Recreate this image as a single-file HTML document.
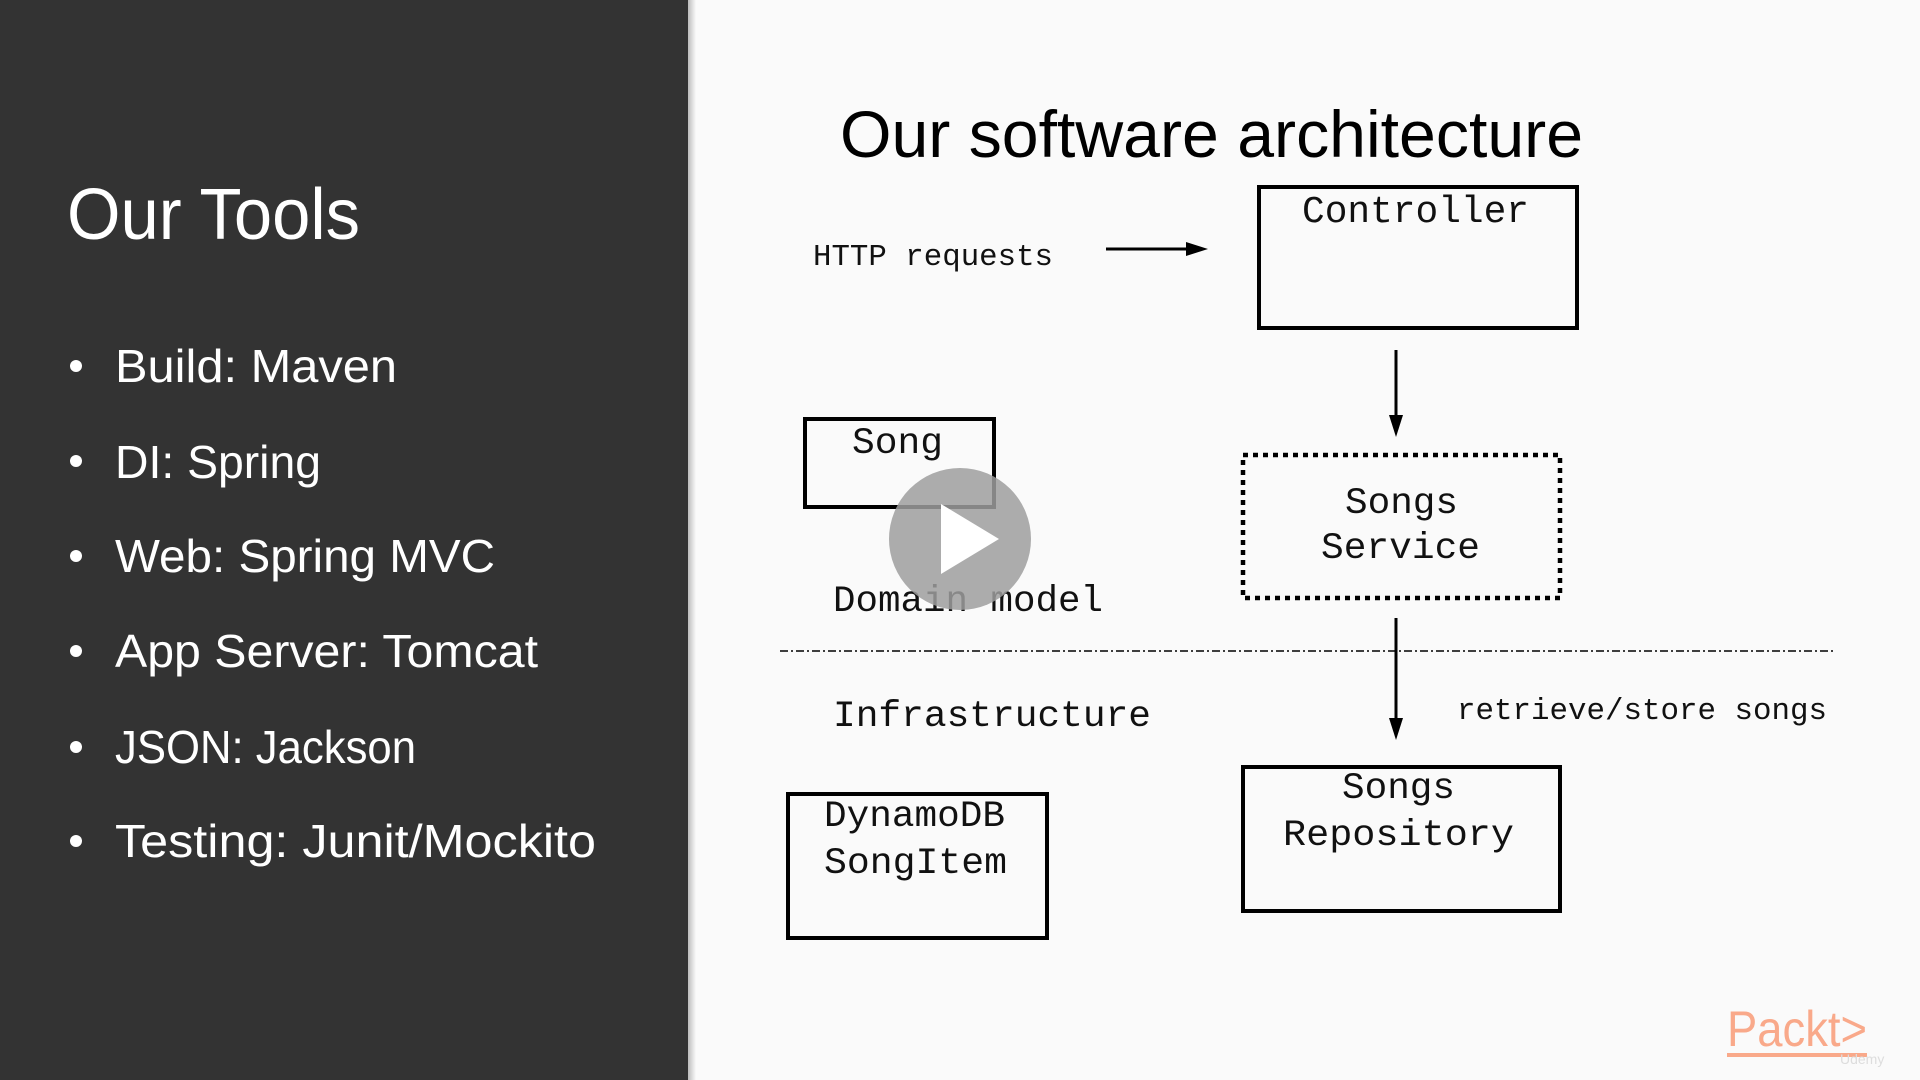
<!DOCTYPE html>
<html><head><meta charset="utf-8"><style>
html,body{margin:0;padding:0;width:1920px;height:1080px;overflow:hidden;background:#fafafa}
svg{display:block}
</style></head><body>
<svg width="1920" height="1080" viewBox="0 0 1920 1080" xmlns="http://www.w3.org/2000/svg">
<defs>
<linearGradient id="sh" x1="0" x2="1"><stop offset="0" stop-color="#000" stop-opacity="0.25"/><stop offset="1" stop-color="#000" stop-opacity="0"/></linearGradient>
</defs>
<rect width="1920" height="1080" fill="#fafafa"/>
<rect width="688" height="1080" fill="#333333"/>
<rect x="688" width="8" height="1080" fill="url(#sh)"/>
<g font-family="Liberation Sans, sans-serif" fill="#ffffff">
<text x="67" y="239" font-size="72" textLength="293" lengthAdjust="spacingAndGlyphs">Our Tools</text>
<g font-size="46">
<circle cx="76" cy="366" r="6"/><text x="115" y="382" textLength="282" lengthAdjust="spacingAndGlyphs">Build: Maven</text>
<circle cx="76" cy="461" r="6"/><text x="115" y="478" textLength="206" lengthAdjust="spacingAndGlyphs">DI: Spring</text>
<circle cx="76" cy="556" r="6"/><text x="115" y="572" textLength="380" lengthAdjust="spacingAndGlyphs">Web: Spring MVC</text>
<circle cx="76" cy="651" r="6"/><text x="115" y="667" textLength="423" lengthAdjust="spacingAndGlyphs">App Server: Tomcat</text>
<circle cx="76" cy="747" r="6"/><text x="115" y="763" textLength="301" lengthAdjust="spacingAndGlyphs">JSON: Jackson</text>
<circle cx="76" cy="841" r="6"/><text x="115" y="857" textLength="481" lengthAdjust="spacingAndGlyphs">Testing: Junit/Mockito</text>
</g></g>
<text x="840" y="157" font-family="Liberation Sans, sans-serif" font-size="66" fill="#000" textLength="743" lengthAdjust="spacingAndGlyphs">Our software architecture</text>
<g fill="none" stroke="#000" stroke-width="4">
<rect x="1259" y="187" width="318" height="141"/>
<rect x="805" y="419" width="189" height="88"/>
<rect x="1243" y="767" width="317" height="144"/>
<rect x="788" y="794" width="259" height="144"/>
<rect x="1243" y="455" width="317" height="143" stroke-dasharray="5 5" stroke-width="4.5"/>
<line x1="1106" y1="249" x2="1190" y2="249" stroke-width="3"/>
<line x1="1396" y1="350" x2="1396" y2="422" stroke-width="3"/>
<line x1="1396" y1="618" x2="1396" y2="722" stroke-width="3"/>
</g>
<line x1="780" y1="651" x2="1834" y2="651" stroke="#000" stroke-width="1.5" stroke-dasharray="8 3 2 3"/>
<g fill="#000">
<polygon points="1208,249 1186,242 1186,256"/>
<polygon points="1396,437 1389,415 1403,415"/>
<polygon points="1396,740 1389,718 1403,718"/>
</g>
<g font-family="Liberation Mono, monospace" fill="#111" lengthAdjust="spacingAndGlyphs">
<text x="1302" y="222" font-size="38" textLength="227" lengthAdjust="spacingAndGlyphs">Controller</text>
<text x="813" y="265" font-size="31" textLength="240" lengthAdjust="spacingAndGlyphs">HTTP requests</text>
<text x="852" y="453" font-size="37" textLength="91" lengthAdjust="spacingAndGlyphs">Song</text>
<text x="1345" y="513" font-size="37" textLength="113" lengthAdjust="spacingAndGlyphs">Songs</text>
<text x="1321" y="558" font-size="37" textLength="159" lengthAdjust="spacingAndGlyphs">Service</text>
<text x="833" y="611" font-size="37" textLength="270" lengthAdjust="spacingAndGlyphs">Domain model</text>
<text x="833" y="726" font-size="37" textLength="318" lengthAdjust="spacingAndGlyphs">Infrastructure</text>
<text x="1457" y="719" font-size="31" textLength="370" lengthAdjust="spacingAndGlyphs">retrieve/store songs</text>
<text x="1342" y="798" font-size="37" textLength="113" lengthAdjust="spacingAndGlyphs">Songs</text>
<text x="1283" y="845" font-size="37" textLength="231" lengthAdjust="spacingAndGlyphs">Repository</text>
<text x="824" y="826" font-size="37" textLength="181" lengthAdjust="spacingAndGlyphs">DynamoDB</text>
<text x="824" y="873" font-size="37" textLength="183" lengthAdjust="spacingAndGlyphs">SongItem</text>
</g>
<circle cx="960" cy="539" r="71" fill="#9e9e9e" fill-opacity="0.85"/>
<polygon points="941,504 941,574 999,539" fill="#fff"/>
<text x="1727" y="1046" font-family="Liberation Sans, sans-serif" font-size="50" fill="#f9a98a" textLength="140" lengthAdjust="spacingAndGlyphs">Packt&gt;</text>
<rect x="1727" y="1053" width="140" height="4" fill="#f9a98a"/>
<text x="1840" y="1064" font-family="Liberation Sans, sans-serif" font-size="14" fill="#ddd">Udemy</text>
</svg>
</body></html>
